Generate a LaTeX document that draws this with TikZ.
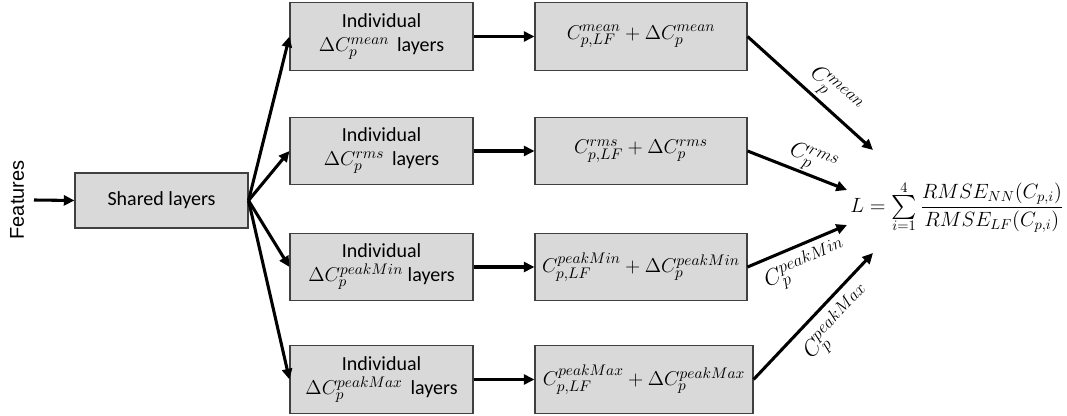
\RequirePackage{fix-cm}
\documentclass[tikz,border=0pt]{standalone}
\usepackage{graphicx}
\usepackage{fontspec}
\setmainfont{Carlito}
\newfontfamily\arialfont{Liberation Sans}
\DeclareMathSizes{15}{15}{11.5}{9}
\DeclareMathSizes{17}{17}{13}{10}
\newcommand{\bigsumsym}{\mathop{\vcenter{\hbox{\resizebox{19pt}{!}{$\textstyle\sum$}}}}\limits}
\usetikzlibrary{arrows.meta}
\definecolor{boxfill}{HTML}{D9D9D9}
\definecolor{boxline}{HTML}{404040}
\begin{document}
\begin{tikzpicture}[x=0.75pt,y=-0.75pt,
  box/.style={draw=boxline,line width=0.8pt,fill=boxfill,inner sep=0pt,
    font=\fontsize{15}{18}\selectfont,align=center},
  indbox/.style={box,minimum width=137.25pt,minimum height=50.5pt},
  sumbox/.style={box,minimum width=159pt,minimum height=50.5pt},
  arr/.style={line width=2.3pt,-{Triangle[length=8pt,width=7.5pt]}},
  lab/.style={font=\fontsize{17}{20}\selectfont,sloped,inner sep=1pt}]
\useasboundingbox (0,0) rectangle (1067,416);
% Features
\node[font=\arialfont\fontsize{15}{17}\selectfont,rotate=90] (feat) at (17,200) {Features};
\coordinate (fs) at (34,200);
% shared
\node[box,minimum width=129.75pt,minimum height=41.25pt] (sh) at (161.5,200.5) {Shared layers};
% individual boxes
\node[indbox] (i1) at (381.5,36.5) {Individual\\$\Delta C_p^{mean}$\, layers};
\node[indbox] (i2) at (381.5,151) {Individual\\$\Delta C_p^{rms}$\, layers};
\node[indbox] (i3) at (381.5,267) {Individual\\$\Delta C_p^{peakMin}$ layers};
\node[indbox] (i4) at (381.5,379.5) {Individual\\$\Delta C_p^{peakMax}$\, layers};
% sum boxes
\node[sumbox] (s1) at (641,36.5) {$C_{p,LF}^{mean}+\Delta C_p^{mean}$};
\node[sumbox] (s2) at (641,151) {$C_{p,LF}^{rms}+\Delta C_p^{rms}$};
\node[sumbox] (s3) at (641,267) {$C_{p,LF}^{peakMin}+\Delta C_p^{peakMin}$};
\node[box,minimum width=163.5pt,minimum height=50.5pt] (s4) at (644,379.5) {$C_{p,LF}^{peakMax}+\Delta C_p^{peakMax}$};
% loss
\node[font=\fontsize{15.5}{19}\selectfont,inner sep=0pt] (L) at (957,207)
  {$\displaystyle L=\bigsumsym_{i=1}^{4}\frac{RMSE_{NN}(C_{p,i})}{RMSE_{LF}(C_{p,i})}$};
\coordinate (t1) at (873,150);
\coordinate (t2) at (847,190);
\coordinate (t3) at (847,225);
\coordinate (t4) at (873,253);
% connectors
\draw[arr] (fs) -- (sh.west);
\foreach \k in {1,2,3,4}{
  \draw[arr] (sh.east) -- (i\k.west);
  \draw[arr] (i\k.east) -- (s\k.west);
}
\draw[arr] (s1.east) -- node[lab,above,pos=0.6,yshift=1pt]{$C_p^{mean}$} (t1);
\draw[arr] (s2.east) -- node[lab,above,pos=0.6]{$C_p^{rms}$} (t2);
\draw[arr] (s3.east) -- node[lab,below,pos=0.5,yshift=-3pt]{$C_p^{peakMin}$} (t3);
\draw[arr] (s4.east) -- node[lab,below,pos=0.57,yshift=-4pt]{$C_p^{peakMax}$} (t4);
\end{tikzpicture}
\end{document}
